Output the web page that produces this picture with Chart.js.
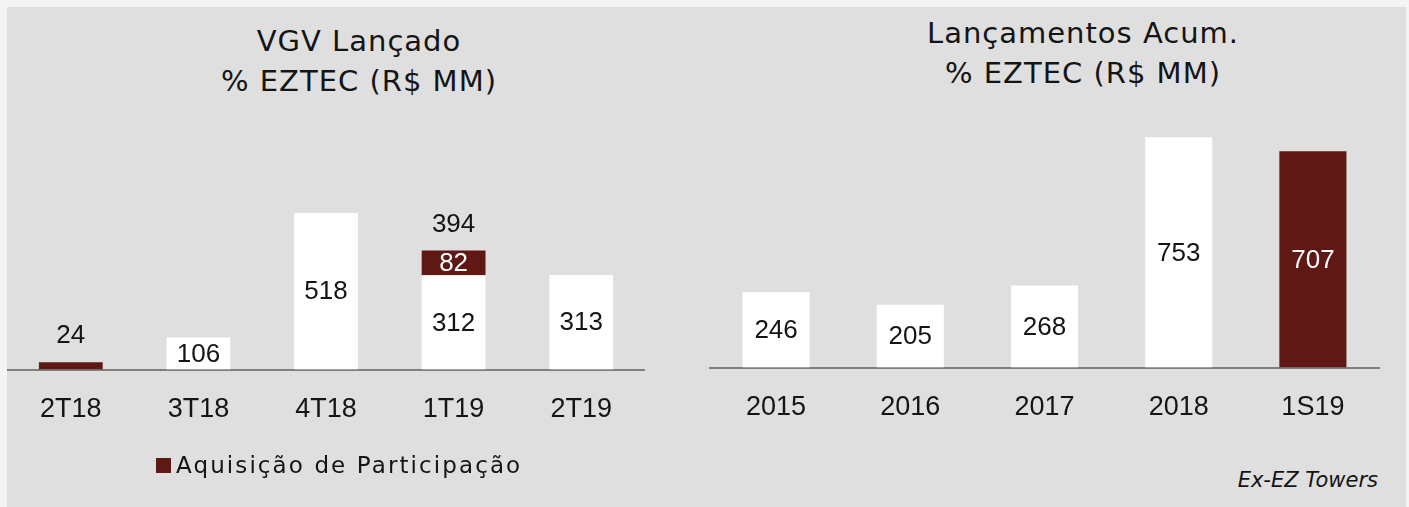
<!DOCTYPE html>
<html><head><meta charset="utf-8">
<script src="https://cdn.jsdelivr.net/npm/chart.js@4.4.0/dist/chart.umd.min.js"></script>
<style>
html,body{margin:0;padding:0;background:#f4f4f4;width:1409px;height:507px;overflow:hidden;position:relative;}
#panel{position:absolute;left:7px;top:7px;width:1399px;height:500px;background:#dfdfdf;}
canvas{position:absolute;}
.title{position:absolute;font-family:"DejaVu Sans",sans-serif;font-size:29px;color:#141414;text-align:center;line-height:40px;letter-spacing:1px;white-space:nowrap;transform:translateX(-50%);}
#legend{position:absolute;left:156px;top:448px;font-family:"DejaVu Sans",sans-serif;font-size:23px;line-height:34px;color:#141414;letter-spacing:2.1px;white-space:nowrap;}
#legend .sw{position:absolute;left:0;top:10px;width:15px;height:15px;background:#5e1914;}
#legend .tx{position:absolute;left:20px;top:0;}
#note{position:absolute;right:31px;top:466px;font-family:"DejaVu Sans",sans-serif;font-style:italic;font-size:21px;line-height:28px;color:#141414;white-space:nowrap;}
</style></head>
<body>
<div id="panel"></div>
<div class="title" style="left:359px;top:21px;">VGV Lançado<br>% EZTEC (R$ MM)</div>
<div class="title" style="left:1083px;top:13px;">Lançamentos Acum.<br>% EZTEC (R$ MM)</div>
<canvas id="left" width="638" height="350" style="left:7px;top:100px;width:638px;height:350px;"></canvas>
<canvas id="right" width="671" height="350" style="left:709px;top:98px;width:671px;height:350px;"></canvas>
<div id="legend"><span class="sw"></span><span class="tx">Aquisição de Participação</span></div>
<div id="note">Ex-EZ Towers</div>
<script>
// ---- data ----
const categoriesLeft = ['2T18', '3T18', '4T18', '1T19', '2T19'];
const lancadoEztec = [null, 106, 518, 312, 313];
const aquisicaoParticipacao = [24, null, null, 82, null];
const totalLeft = [24, null, null, 394, null];

const categoriesRight = ['2015', '2016', '2017', '2018', '1S19'];
const lancamentosAcum = [246, 205, 268, 753, 707];

const DARK = '#5e1914';
const WHITE = '#ffffff';
const TEXT = '#141414';
const LABEL_FONT = '26px "Liberation Sans", Arial, sans-serif';

const labelPlugin = {
  id: 'barLabels',
  afterDatasetsDraw(chart) {
    const ctx = chart.ctx;
    ctx.save();
    ctx.font = LABEL_FONT;
    ctx.textAlign = 'center';
    ctx.textBaseline = 'middle';
    chart.data.datasets.forEach((ds, di) => {
      const meta = chart.getDatasetMeta(di);
      meta.data.forEach((bar, i) => {
        const v = ds.data[i];
        if (v === null || v === undefined) return;
        const h = Math.abs(bar.base - bar.y);
        if (h < 22) return;
        const col = Array.isArray(ds.labelColor) ? ds.labelColor[i] : ds.labelColor;
        ctx.fillStyle = col;
        ctx.fillText(String(v), bar.x, (bar.y + bar.base) / 2 + 1);
      });
    });
    const totals = chart.options.plugins.barLabels && chart.options.plugins.barLabels.totals;
    if (totals) {
      const meta = chart.getDatasetMeta(0);
      const ys = chart.scales.y;
      ctx.fillStyle = TEXT;
      ctx.textBaseline = 'alphabetic';
      totals.forEach((t, i) => {
        if (t === null) return;
        const x = meta.data[i].x;
        const top = ys.getPixelForValue(t);
        ctx.fillText(String(t), x, top - 19);
      });
    }
    ctx.restore();
  }
};

function baseOptions(maxY, totals) {
  return {
    responsive: false,
    animation: false,
    layout: { padding: 0 },
    plugins: {
      legend: { display: false },
      tooltip: { enabled: false },
      barLabels: { totals: totals }
    },
    scales: {
      x: {
        stacked: true,
        grid: { display: false, drawTicks: false },
        border: { display: true, color: '#7f7f7f', width: 2 },
        ticks: { color: TEXT, font: { family: '"Liberation Sans", Arial, sans-serif', size: 27 }, padding: 24 }
      },
      y: { stacked: true, display: false, min: 0, max: maxY }
    }
  };
}

new Chart(document.getElementById('left'), {
  type: 'bar',
  data: {
    labels: categoriesLeft,
    datasets: [
      { label: 'Lançado', data: lancadoEztec, backgroundColor: WHITE, labelColor: TEXT,
        barPercentage: 0.5, categoryPercentage: 1.0 },
      { label: 'Aquisição de Participação', data: aquisicaoParticipacao, backgroundColor: DARK, labelColor: WHITE,
        barPercentage: 0.5, categoryPercentage: 1.0 }
    ]
  },
  options: baseOptions(892, totalLeft),
  plugins: [labelPlugin]
});

new Chart(document.getElementById('right'), {
  type: 'bar',
  data: {
    labels: categoriesRight,
    datasets: [
      { label: 'Lançamentos Acum.', data: lancamentosAcum,
        backgroundColor: [WHITE, WHITE, WHITE, WHITE, DARK],
        labelColor: [TEXT, TEXT, TEXT, TEXT, WHITE],
        barPercentage: 0.5, categoryPercentage: 1.0 }
    ]
  },
  options: baseOptions(881, null),
  plugins: [labelPlugin]
});
</script>
</body></html>
